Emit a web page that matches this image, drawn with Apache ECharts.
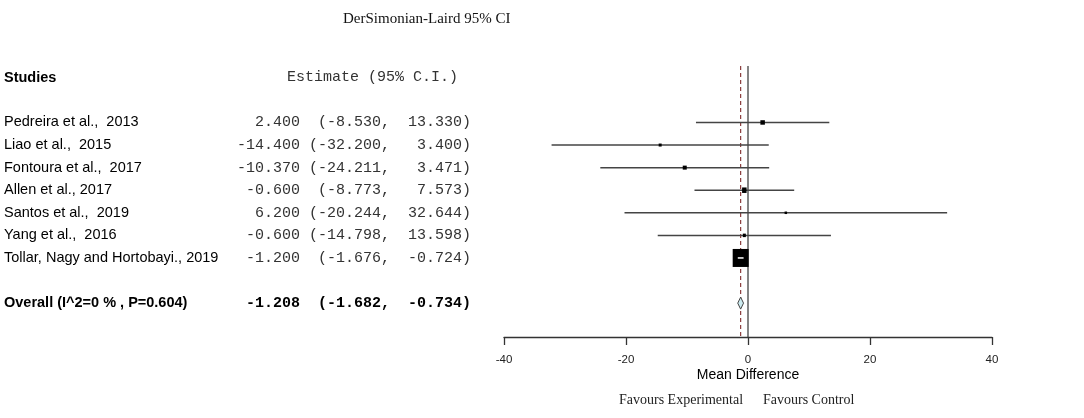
<!DOCTYPE html>
<html lang="en">
<head>
    <meta charset="UTF-8">
    <title>Forest plot</title>
    <script src="https://cdn.jsdelivr.net/npm/echarts@6/dist/echarts.min.js"></script>
    <style>
        html, body { margin: 0; padding: 0; background: #fff; }
    </style>
</head>
<body>
<div id="main" style="width: 1084px;height:418px;"></div>

<script type="text/javascript">
    // data
    var studies = ['Pedreira et al.,  2013', 'Liao et al.,  2015', 'Fontoura et al.,  2017', 'Allen et al., 2017',
        'Santos et al.,  2019', 'Yang et al.,  2016', 'Tollar, Nagy and Hortobayi., 2019'];
    var estimate = [2.4, -14.4, -10.37, -0.6, 6.2, -0.6, -1.2];
    var lower = [-8.53, -32.2, -24.211, -8.773, -20.244, -14.798, -1.676];
    var upper = [13.33, 3.4, 3.471, 7.573, 32.644, 13.598, -0.724];
    var overallLabel = 'Overall (I^2=0 % , P=0.604)';
    var overall = [-1.208, -1.682, -0.734];
    var xTicks = [-40, -20, 0, 20, 40];

    // box sizes (px) as drawn
    var boxW = [4.5, 3, 4, 4.5, 2.5, 3, 16];
    var boxH = [4.5, 3, 4, 5.5, 2.5, 3.5, 18];

    var overallRow = studies.length + 1;
    var yMin = -2.5, yMax = 9.5;
    var mono = '"Liberation Mono", "Courier New", monospace';
    var sans = '"Liberation Sans", Arial, sans-serif';
    var serif = '"Liberation Serif", "Times New Roman", serif';

    function fmt(v) { return v.toFixed(3); }
    function ciText(e, l, u) {
        return fmt(e).padStart(7) + ' ' + ('(' + fmt(l)).padStart(8) + ',' + fmt(u).padStart(8) + ')';
    }

    var studyData = studies.map(function (s, i) {
        return [estimate[i], lower[i], upper[i], i];
    });
    var labelData = studies.map(function (s, i) {
        return [0, i, s, ciText(estimate[i], lower[i], upper[i]), 0];
    });
    labelData.push([0, overallRow, overallLabel, ciText(overall[0], overall[1], overall[2]), 1]);

    var myChart = echarts.init(document.getElementById('main'));
    var option = {
        animation: false,
        title: {
            text: 'DerSimonian-Laird 95% CI',
            left: 338,
            top: 7,
            textStyle: {fontFamily: serif, fontSize: 15, fontWeight: 'normal', color: '#111'}
        },
        grid: {left: 504, right: 92, top: 66, bottom: 81},
        xAxis: {
            type: 'value',
            min: xTicks[0],
            max: xTicks[xTicks.length - 1],
            interval: 20,
            name: 'Mean Difference',
            nameLocation: 'middle',
            nameGap: 31,
            nameMoveOverlap: false,
            nameTextStyle: {fontFamily: sans, fontSize: 14, color: '#000'},
            axisLine: {show: true, onZero: false, lineStyle: {color: '#333', width: 1.3}},
            axisTick: {show: true, length: 8, lineStyle: {color: '#333', width: 1.3}},
            axisLabel: {margin: 17, fontFamily: sans, fontSize: 11.5, color: '#222'},
            splitLine: {show: false}
        },
        yAxis: {
            type: 'value',
            min: yMin,
            max: yMax,
            inverse: true,
            show: false
        },
        graphic: [
            {type: 'text', left: 4, top: 70, style: {text: 'Studies', font: 'bold 14.5px ' + sans, fill: '#000'}},
            {type: 'text', left: 287, top: 70, style: {text: 'Estimate (95% C.I.)', font: '15px ' + mono, fill: '#333'}},
            {type: 'text', left: 619, top: 393, style: {text: 'Favours Experimental', font: '14px ' + serif, fill: '#222'}},
            {type: 'text', left: 763, top: 393, style: {text: 'Favours Control', font: '14px ' + serif, fill: '#222'}}
        ],
        series: [
            {
                // study labels and estimate text, one row each
                type: 'custom',
                clip: false,
                silent: true,
                data: labelData,
                renderItem: function (params, api) {
                    var y = api.coord([0, api.value(1)])[1];
                    var d = labelData[params.dataIndex];
                    var bold = d[4] === 1;
                    return {
                        type: 'group',
                        children: [
                            {type: 'text', x: 4, y: y, style: {text: d[2], font: (bold ? 'bold ' : '') + '14.5px ' + sans, fill: '#000', verticalAlign: 'middle'}},
                            {type: 'text', x: 237, y: y, style: {text: d[3], font: (bold ? 'bold ' : '') + '15px ' + mono, fill: bold ? '#000' : '#333', verticalAlign: 'middle'}}
                        ]
                    };
                }
            },
            {
                // reference lines: no effect (solid) and pooled estimate (dashed)
                type: 'custom',
                silent: true,
                z: 1,
                data: [[0, 0], [overall[0], 1]],
                renderItem: function (params, api) {
                    var top = api.coord([api.value(0), yMin]);
                    var bot = api.coord([api.value(0), yMax]);
                    var dashed = api.value(1) === 1;
                    return {
                        type: 'line',
                        shape: {x1: top[0], y1: top[1], x2: bot[0], y2: bot[1]},
                        style: dashed ? {stroke: '#8b3c3c', lineWidth: 1.2, lineDash: [4, 3]}
                            : {stroke: '#333', lineWidth: 1.2}
                    };
                }
            },
            {
                type: 'custom',
                silent: true,
                z: 3,
                data: studyData,
                renderItem: function (params, api) {
                    var i = params.dataIndex;
                    var row = api.value(3);
                    var pe = api.coord([api.value(0), row]);
                    var pl = api.coord([api.value(1), row]);
                    var pu = api.coord([api.value(2), row]);
                    var w = boxW[i], h = boxH[i];
                    var children = [
                        {type: 'line', shape: {x1: pl[0], y1: pe[1], x2: pu[0], y2: pe[1]}, style: {stroke: '#444', lineWidth: 1.5}},
                        {type: 'rect', shape: {x: pe[0] - w / 2, y: pe[1] - h / 2, width: w, height: h}, style: {fill: '#000'}}
                    ];
                    if (w > pu[0] - pl[0]) {
                        children.push({type: 'line', shape: {x1: pl[0], y1: pe[1], x2: pu[0], y2: pe[1]}, style: {stroke: '#fff', lineWidth: 1.5}});
                    }
                    return {type: 'group', children: children};
                }
            },
            {
                // pooled estimate diamond
                type: 'custom',
                silent: true,
                z: 3,
                data: [[overall[0], overall[1], overall[2], overallRow]],
                renderItem: function (params, api) {
                    var row = api.value(3);
                    var pe = api.coord([api.value(0), row]);
                    var pl = api.coord([api.value(1), row]);
                    var pu = api.coord([api.value(2), row]);
                    return {
                        type: 'polygon',
                        shape: {points: [[pl[0], pe[1]], [pe[0], pe[1] - 6], [pu[0], pe[1]], [pe[0], pe[1] + 6]]},
                        style: {fill: '#cdebf0', stroke: '#444', lineWidth: 1}
                    };
                }
            }
        ]
    };

    myChart.setOption(option);
</script>
</body>
</html>
